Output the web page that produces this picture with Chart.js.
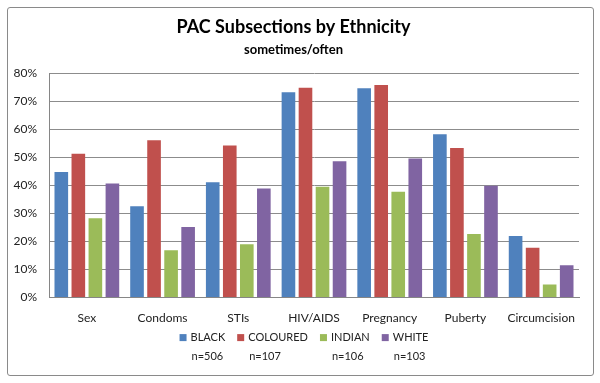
<!DOCTYPE html>
<html>
<head>
<meta charset="utf-8">
<script src="https://cdn.jsdelivr.net/npm/chart.js@4"></script>
<style>
  html, body { margin: 0; padding: 0; background: #fff; }
  #frame {
    position: absolute; left: 7px; top: 7px; width: 585px; height: 367px;
    border: 1px solid #8a8a8a; border-radius: 3px; background: #fff;
  }
</style>
</head>
<body>
<div id="frame"><canvas id="chart"></canvas></div>
<script>
// categories + series (percent)
const categories = ['Sex', 'Condoms', 'STIs', 'HIV/AIDS', 'Pregnancy', 'Puberty', 'Circumcision'];
const groups = ['BLACK', 'COLOURED', 'INDIAN', 'WHITE'];
const groupN = ['n=506', 'n=107', 'n=106', 'n=103'];

const black    = [44.8, 32.6, 41.1, 73.2, 74.6, 58.2, 22.0];
const coloured = [51.3, 56.1, 54.2, 74.8, 75.8, 53.3, 17.8];
const indian   = [28.3, 16.9, 19.0, 39.5, 37.7, 22.7, 4.7];
const white    = [40.7, 25.2, 38.9, 48.6, 49.6, 39.9, 11.5];

const yTicks = [0, 10, 20, 30, 40, 50, 60, 70, 80];

const colors = ['#4F81BD', '#C0504D', '#9BBB59', '#8064A2'];
const series = [black, coloured, indian, white];

const font = "'Lato', 'Open Sans', sans-serif";

let datasets = series.map((vals, i) => ({
    label: groups[i],
    data: vals,
    backgroundColor: colors[i],
    borderWidth: 0,
    categoryPercentage: 0.9,
    barPercentage: 0.8
}));

// two-line legend under the axis (label, then n= below it)
const twoLineLegend = {
    id: 'twoLineLegend',
    afterDraw(c) {
        const ctx = c.ctx;
        const area = c.chartArea;
        ctx.save();
        ctx.font = '11px ' + font;
        ctx.textBaseline = 'middle';
        ctx.textAlign = 'left';
        let gap = 12, box = 7;
        let widths = groups.map(g => box + 4 + ctx.measureText(g).width);
        let total = widths.reduce((a, b) => a + b, 0) + gap * (groups.length - 1);
        let x = (area.left + area.right) / 2 - total / 2 - 10;
        let y1 = area.bottom + 40, y2 = area.bottom + 59;
        groups.forEach((g, i) => {
            ctx.fillStyle = colors[i];
            ctx.fillRect(x, y1 - box / 2, box, box);
            ctx.fillStyle = '#222';
            ctx.fillText(g, x + box + 4, y1);
            ctx.fillText(groupN[i], x + box + 5, y2);
            x += widths[i] + gap;
        });
        ctx.restore();
    }
};

const chart = new Chart(document.getElementById('chart'), {
    type: 'bar',
    data: { labels: categories, datasets },
    options: {
        responsive: true,
        maintainAspectRatio: false,
        animation: false,
        layout: { padding: { left: 0, right: 14, top: 6, bottom: 37 } },
        plugins: {
            title: {
                display: true,
                text: 'PAC Subsections by Ethnicity',
                color: '#000',
                font: { family: font, size: 18, weight: 'bold' },
                padding: { top: 2, bottom: 2 }
            },
            subtitle: {
                display: true,
                text: 'sometimes/often',
                color: '#000',
                font: { family: font, size: 13, weight: 'bold' },
                padding: { top: 2, bottom: 16 }
            },
            legend: { display: false },
            tooltip: { enabled: false }
        },
        scales: {
            x: {
                grid: { display: false, drawTicks: false },
                border: { color: '#868686' },
                ticks: { color: '#222', font: { family: font, size: 12 }, padding: 13 }
            },
            y: {
                min: 0,
                max: 80,
                afterBuildTicks: (axis) => { axis.ticks = yTicks.map(v => ({ value: v })); },
                afterFit: (axis) => { axis.width = 41; },
                grid: { color: '#8c8c8c', drawTicks: false },
                border: { color: '#868686' },
                ticks: {
                    color: '#222',
                    font: { family: font, size: 12 },
                    padding: 12,
                    callback: (v) => v + '%'
                }
            }
        }
    },
    plugins: [twoLineLegend]
});
</script>
</body>
</html>
